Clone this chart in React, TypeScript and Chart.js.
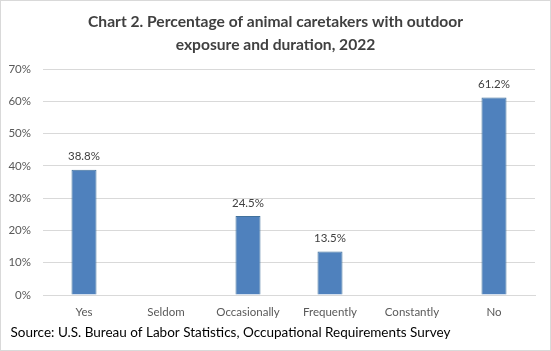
import React, { useEffect, useRef } from "react";
import { Chart, registerables } from "chart.js";

Chart.register(...registerables);

const categories = ["Yes", "Seldom", "Occasionally", "Frequently", "Constantly", "No"];
const percentages: (number | null)[] = [38.8, null, 24.5, 13.5, null, 61.2];
const yTicks = [0, 10, 20, 30, 40, 50, 60, 70];
const titleLines = [
  "Chart 2. Percentage of animal caretakers with outdoor",
  "exposure and duration, 2022",
];
const sourceText = "Source: U.S. Bureau of Labor Statistics, Occupational Requirements Survey";

const FONT = "Lato, 'Open Sans', 'DejaVu Sans', sans-serif";

function fitFont(ctx: CanvasRenderingContext2D, text: string, weight: string, target: number, base: number) {
  ctx.font = `${weight} ${base}px ${FONT}`;
  const w = ctx.measureText(text).width;
  const size = (base * target) / w;
  return `${weight} ${size.toFixed(2)}px ${FONT}`;
}

const decorPlugin = {
  id: "decor",
  beforeDraw(chart: any) {
    const ctx = chart.ctx as CanvasRenderingContext2D;
    ctx.save();
    ctx.fillStyle = "#ffffff";
    ctx.fillRect(0, 0, chart.width, chart.height);
    ctx.restore();
  },
  afterDatasetsDraw(chart: any) {
    const ctx = chart.ctx as CanvasRenderingContext2D;
    const meta = chart.getDatasetMeta(0);
    ctx.save();
    ctx.font = `11.5px ${FONT}`;
    ctx.fillStyle = "#404040";
    ctx.textAlign = "center";
    ctx.textBaseline = "middle";
    meta.data.forEach((bar: any, i: number) => {
      const v = percentages[i];
      if (v == null) return;
      ctx.fillText(v.toFixed(1) + "%", bar.x, bar.y - 13);
    });
    ctx.restore();
  },
  afterDraw(chart: any) {
    const ctx = chart.ctx as CanvasRenderingContext2D;
    ctx.save();
    // title
    ctx.fillStyle = "#404040";
    ctx.textAlign = "center";
    ctx.textBaseline = "middle";
    const tf = fitFont(ctx, titleLines[0], "bold", 375, 16);
    ctx.font = tf;
    ctx.fillText(titleLines[0], 275.5, 22);
    ctx.fillText(titleLines[1], 275.5, 45);
    // source
    ctx.fillStyle = "#000000";
    ctx.textAlign = "left";
    ctx.font = fitFont(ctx, sourceText, "normal", 440, 14);
    ctx.fillText(sourceText, 10.5, 333);
    // border
    ctx.strokeStyle = "#d9d9d9";
    ctx.lineWidth = 1;
    ctx.strokeRect(0.5, 0.5, chart.width - 1, chart.height - 1);
    ctx.restore();
  },
};

export default function App() {
  const ref = useRef<HTMLCanvasElement | null>(null);
  useEffect(() => {
    document.body.style.margin = "0";
    if (!ref.current) return;
    const chart = new Chart(ref.current, {
      type: "bar",
      data: {
        labels: categories,
        datasets: [
          {
            data: percentages,
            backgroundColor: "#4F81BD",
            borderColor: "#41719C",
            borderWidth: 1,
            barPercentage: 0.305,
            categoryPercentage: 1,
          },
        ],
      },
      options: {
        responsive: false,
        animation: false,
        devicePixelRatio: 1,
        layout: { padding: { left: 0, right: 16, top: 69, bottom: 0 } },
        plugins: {
          legend: { display: false },
          title: { display: false },
          tooltip: { enabled: false },
        },
        scales: {
          x: {
            grid: { display: false, drawTicks: false },
            border: { display: true, color: "#d9d9d9", width: 1 },
            ticks: {
              color: "#595959",
              font: { family: FONT, size: 11.5 },
              padding: 10,
              maxRotation: 0,
              autoSkip: false,
            },
            afterFit(s: any) {
              s.height = 56;
            },
          },
          y: {
            min: 0,
            max: 70,
            afterBuildTicks(s: any) {
              s.ticks = yTicks.map((v) => ({ value: v }));
            },
            grid: { color: "#d9d9d9", lineWidth: 1, drawTicks: false },
            border: { display: false },
            ticks: {
              color: "#595959",
              font: { family: FONT, size: 11.5 },
              padding: 12,
              callback: (v: any) => v + "%",
            },
            afterFit(s: any) {
              s.width = 43;
            },
          },
        },
      },
      plugins: [decorPlugin],
    });
    return () => chart.destroy();
  }, []);
  return <canvas ref={ref} width={551} height={351} style={{ display: "block" }} />;
}
